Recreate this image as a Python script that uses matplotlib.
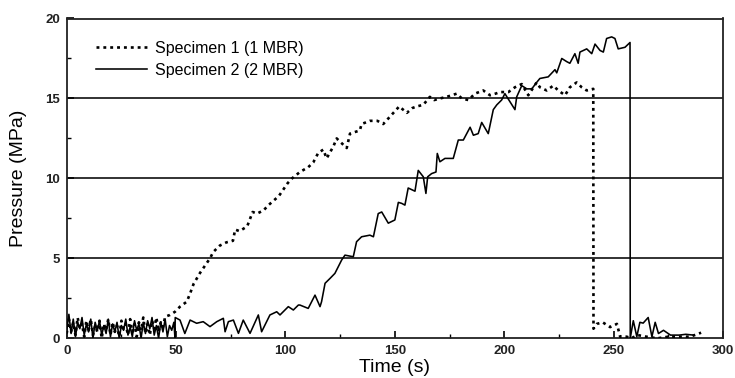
import matplotlib
matplotlib.use("Agg")
import matplotlib.pyplot as plt
from matplotlib.ticker import MultipleLocator

# ---------------- data ----------------
s1_time = [0, 1, 2, 3, 4, 5, 6, 7, 8, 9, 10, 11, 12, 13, 14, 15, 16, 17, 18, 19,
           20, 21, 22, 23, 24, 25, 26, 27, 28, 29, 30, 31, 32, 33, 34, 35, 36, 37,
           38, 39, 40, 41, 42, 43, 44, 45, 47.2, 49.5, 51.8, 54.9, 56.4, 58, 61,
           63, 65.5, 67, 70, 73, 76, 77, 79, 82.5, 85, 87, 90, 92, 94.5, 97, 99,
           101, 103, 106.6, 110.4, 112.7, 115, 117.3, 118.8, 121.9, 123.4, 128,
           129.5, 134, 134.8, 138.6, 142, 144.7, 148, 152, 155.5, 158, 160, 163,
           166, 168, 170.6, 173.7, 176, 178.3, 180.6, 183.6, 186.6, 190.4, 193.5,
           196, 198.1, 201.9, 204.9, 208, 211, 214.8, 216.3, 219.4, 222.4, 224.7,
           227.8, 230, 233.1, 235.4, 237.7, 240.7, 240.8, 242.3, 245, 248.4,
           251.5, 253, 256, 258, 261, 265, 270, 275, 280, 285, 290]
s1_pressure = [0.3, 1.2, 0.4, 1.0, 0.2, 1.3, 0.6, 0.9, 0.1, 1.1, 0.5, 1.2, 0.2, 0.8,
               0.4, 1.1, 0.0, 0.9, 0.5, 1.2, 0.2, 1.0, 0.4, 0.8, 0.1, 1.1, 0.6, 0.9,
               0.2, 1.2, 0.4, 0.9, 0.1, 1.0, 0.5, 1.3, 0.3, 0.9, 0.2, 1.1, 0.6, 1.3,
               0.4, 1.0, 0.7, 1.35, 1.46, 1.66, 1.98, 2.29, 2.8, 3.4, 4.1, 4.5,
               5.0, 5.4, 5.8, 6.0, 6.1, 6.8, 6.7, 7.0, 7.9, 7.8, 8.0, 8.3, 8.6, 8.9,
               9.3, 9.7, 10.0, 10.4, 10.7, 11.0, 11.6, 11.8, 11.25, 12.0, 12.5,
               11.9, 12.8, 13.0, 13.4, 13.6, 13.6, 13.4, 13.9, 14.5, 14.1, 14.4,
               14.5, 14.6, 15.1, 14.9, 15.0, 15.1, 15.2, 15.3, 15.0, 14.9, 15.3,
               15.5, 15.2, 15.3, 15.4, 15.4, 15.7, 15.9, 15.2, 16.0, 15.7, 15.5,
               15.8, 15.5, 15.2, 15.7, 16.0, 15.7, 15.5, 15.6, 0.6, 0.9, 1.0, 0.7,
               0.9, 0.1, 0.1, 0.0, 0.2, 0.1, 0.0, 0.1, 0.1, 0.1, 0.35]

s2_time = [0, 1, 2, 3, 4, 5, 6, 7, 8, 9, 10, 11, 12, 13, 14, 15, 16, 17, 18, 19,
           20, 21, 22, 23, 24, 25, 26, 27, 28, 29, 30, 31, 32, 33, 34, 35, 36, 37,
           38, 39, 40, 41, 42, 43, 44, 45, 46, 47, 48, 49, 49.5, 49.6, 51.8, 54,
           56.4, 59.4, 62.4, 65.5, 68.6, 71.6, 72.4, 73.9, 76.2, 78.5, 80.7, 83.8,
           87.6, 89.1, 92.9, 96, 97.5, 101.3, 103.6, 105.9, 106.6, 110.4, 113.5,
           115.8, 116.5, 118.1, 120.4, 122.6, 125.7, 127.2, 131, 132.5, 134.8,
           138.6, 140.2, 142.4, 144, 147, 150, 151.6, 153.1, 154.6, 156.1, 159.2,
           160.7, 163, 164.2, 165, 166.8, 168.8, 169.4, 170.6, 172.9, 176.7, 179,
           181.3, 184.4, 185.9, 188.1, 189.7, 192.7, 195, 196.6, 198.8, 200.3,
           204.9, 205.7, 208, 210.3, 212.6, 214.8, 216.3, 220.1, 223.2, 224,
           226.3, 228.6, 230, 232.3, 233.8, 234.6, 237.7, 240, 241.5, 243.8,
           245.3, 246.8, 249.1, 250.6, 252.1, 255.2, 257.5, 257.6, 259, 260.6,
           262, 263.5, 265.8, 267.5, 269, 270.5, 272.8, 276, 280, 283, 286.5]
s2_pressure = [0.5, 1.5, 0.3, 1.2, 0.1, 1.0, 0.6, 1.3, 0.2, 0.9, 0.4, 1.2, 0.0,
               1.0, 0.5, 1.1, 0.2, 0.8, 0.3, 1.2, 0.1, 0.9, 0.4, 1.0, 0.0, 0.8,
               0.5, 1.2, 0.2, 0.7, 0.1, 1.1, 0.5, 0.9, 0.0, 1.0, 0.3, 1.1, 0.6,
               1.3, 0.2, 0.8, 0.0, 1.0, 0.4, 1.2, 0.1, 0.8, 0.5, 1.0, 0.0, 1.3,
               1.14, 0.3, 1.14, 0.94, 1.04, 0.73, 1.04, 1.25, 0.41, 1.04, 1.14,
               0.31, 1.14, 0.31, 1.46, 0.41, 1.46, 1.66, 1.46, 1.98, 1.77, 2.08,
               2.08, 1.87, 2.7, 1.98, 2.29, 3.44, 3.75, 4.06, 4.9, 5.2, 5.1, 6.04,
               6.35, 6.45, 6.35, 7.8, 7.9, 7.2, 7.4, 8.5, 8.44, 8.33, 9.4, 9.2,
               10.5, 10.1, 9.06, 10.1, 10.3, 10.4, 11.56, 11.04, 11.25, 11.25,
               12.4, 12.4, 13.2, 12.7, 12.8, 13.5, 12.8, 14.3, 14.6, 14.9, 15.3,
               14.3, 15.1, 15.8, 15.6, 15.6, 16.0, 16.25, 16.35, 16.8, 16.6, 17.5,
               17.3, 17.2, 17.8, 17.2, 17.9, 18.1, 17.8, 18.4, 18.0, 17.9, 18.75,
               18.85, 18.75, 18.1, 18.2, 18.5, 0.0, 1.1, 0.1, 1.0, 0.95, 1.3, 0.1,
               1.0, 0.3, 0.5, 0.2, 0.2, 0.25, 0.2]

series_labels = ["Specimen 1 (1 MBR)", "Specimen 2 (2 MBR)"]
x_ticks = [0, 50, 100, 150, 200, 250, 300]
y_ticks = [0, 5, 10, 15, 20]
grid_levels = [5, 10, 15]

# ---------------- figure ----------------
plt.rcParams['font.family'] = ['Liberation Sans', 'DejaVu Sans']
fig = plt.figure(figsize=(7.35, 3.78), dpi=100)
ax = fig.add_axes([66.7 / 735, 1 - 338.3 / 378, (723 - 66.7) / 735, (338.3 - 18.5) / 378])

for g in grid_levels:
    ax.axhline(g, color='#222222', lw=1.3, zorder=1)

ax.plot(s1_time, s1_pressure, color='black', lw=1.9, linestyle=(0, (1.1, 1.5)),
        label=series_labels[0], zorder=3)
ax.plot(s2_time, s2_pressure, color='black', lw=1.15, linestyle='-',
        label=series_labels[1], zorder=3)

ax.set_xlim(0, 300)
ax.set_ylim(0, 20)
ax.set_xticks(x_ticks)
ax.set_yticks(y_ticks)
ax.xaxis.set_minor_locator(MultipleLocator(25))
ax.yaxis.set_minor_locator(MultipleLocator(2.5))
ax.tick_params(which='major', direction='in', length=5, width=1.2, labelsize=9.5,
               top=False, right=False, pad=5)
ax.tick_params(which='minor', direction='in', length=3, width=1.0,
               top=False, right=False)
for lab in ax.get_xticklabels() + ax.get_yticklabels():
    lab.set_fontweight('bold')
    lab.set_color('#222222')
for sp in ax.spines.values():
    sp.set_linewidth(1.3)
    sp.set_color('#222222')

ax.set_xlabel("Time (s)", fontsize=14, labelpad=1)
ax.set_ylabel("Pressure (MPa)", fontsize=14, labelpad=13)

leg = ax.legend(loc='upper left', bbox_to_anchor=(0.035, 0.95), frameon=False,
                fontsize=11.5, handlelength=3.2, handletextpad=0.5,
                labelspacing=0.45, borderaxespad=0)

fig.savefig("out.png", dpi=100, facecolor='white')
